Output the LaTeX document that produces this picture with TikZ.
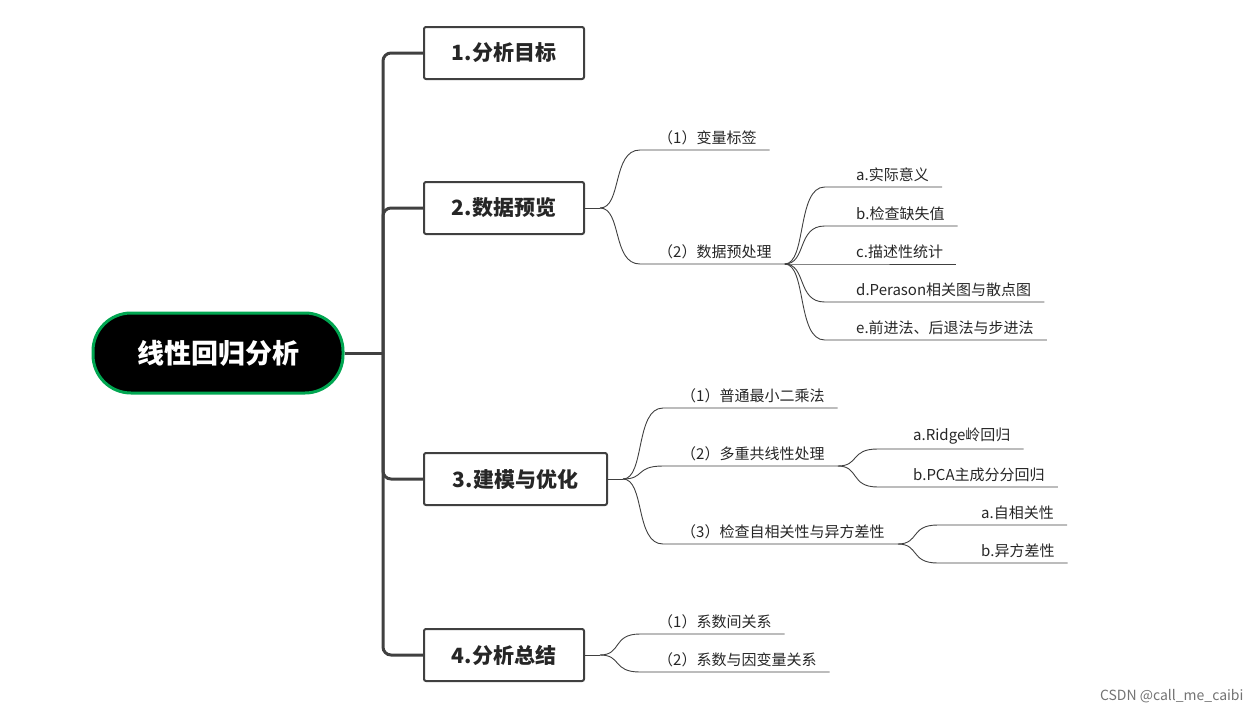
\documentclass[tikz,border=0pt]{standalone}
\usepackage{fontspec}
\setmainfont{Noto Sans CJK SC}
\begin{document}
\begin{tikzpicture}[x=1pt,y=-1pt,
  trunk/.style={line width=3pt,draw=black!75,rounded corners=8pt},
  lvl1/.style={draw=black!75,line width=2pt,rounded corners=2pt,minimum height=52pt,font=\fontsize{21}{24}\bfseries,text=black!85,anchor=west,inner xsep=0pt},
  lvl2/.style={anchor=south west,inner xsep=13pt,inner ysep=5pt,font=\fontsize{15}{18}\selectfont,text=black!85},
  br/.style={draw=black!75,line width=0.9pt}]
\useasboundingbox (0,0) rectangle (1260,715);
\node[fill=black,draw={rgb,255:red,0;green,166;blue,81},line width=3pt,rounded corners=38pt,minimum width=250pt,minimum height=80pt,text=white,font=\fontsize{27}{30}\bfseries] (root) at (218,353) {线性回归分析};
\node[lvl1,minimum width=160pt] (b1) at (423,53) {1.分析目标};
\node[lvl1,minimum width=160pt] (b2) at (423,208) {2.数据预览};
\node[lvl1,minimum width=183pt] (b3) at (423,479) {3.建模与优化};
\node[lvl1,minimum width=160pt] (b4) at (423,655) {4.分析总结};
\coordinate (t) at (383,353);
\draw[trunk] (root.east) -- (t);
\draw[trunk] (b1.west) -| (t);
\draw[trunk] (b2.west) -| (t);
\draw[trunk] (b3.west) -| (t);
\draw[trunk] (b4.west) -| (t);
% level 2
\node[lvl2] (p1) at (645,150) {（1）变量标签};
\node[lvl2] (p2) at (645,264) {（2）数据预处理};
\node[lvl2] (q1) at (843,187) {a.实际意义};
\node[lvl2] (q2) at (843,226) {b.检查缺失值};
\node[lvl2] (q3) at (843,264) {c.描述性统计};
\node[lvl2] (q4) at (843,302) {d.Perason相关图与散点图};
\node[lvl2] (q5) at (843,340) {e.前进法、后退法与步进法};
\node[lvl2] (r1) at (668,408) {（1）普通最小二乘法};
\node[lvl2] (r2) at (668,466) {（2）多重共线性处理};
\node[lvl2] (r3) at (668,544) {（3）检查自相关性与异方差性};
\node[lvl2] (s1) at (900,449) {a.Ridge岭回归};
\node[lvl2] (s2) at (900,487) {b.PCA主成分分回归};
\node[lvl2] (u1) at (968,525) {a.自相关性};
\node[lvl2] (u2) at (968,563) {b.异方差性};
\node[lvl2] (v1) at (645,634) {（1）系数间关系};
\node[lvl2] (v2) at (645,672) {（2）系数与因变量关系};
\node[anchor=east,font=\fontsize{14}{16}\selectfont,text=black!55] (wm) at (1247,696) {CSDN @call\_me\_caibi};
% branches
\def\fork#1#2#3{%
  \draw[br] (#1) -- ++(15,0) coordinate (f);
  \foreach \n in {#2} {%
    \path (f) coordinate (fa);
    \draw[br] (f) .. controls ($(f)+(22,0)$) and ($(f |- \n.south west)+(12,0)$) .. ($(f |- \n.south west)+(#3,0)$) -- (\n.south west) -- (\n.south east);
  }}
\usetikzlibrary{calc}
\draw[br] (b2.east) -- ++(15,0) coordinate (f2);
\foreach \n in {p1,p2} \draw[br] (f2) .. controls ($(f2)+(22,0)$) and ($(f2 |- \n.south west)+(12,0)$) .. ($(f2 |- \n.south west)+(40,0)$) -- (\n.south east);
\draw[br] (b3.east) -- ++(15,0) coordinate (f3);
\foreach \n in {r1,r2,r3} \draw[br] (f3) .. controls ($(f3)+(22,0)$) and ($(f3 |- \n.south west)+(12,0)$) .. ($(f3 |- \n.south west)+(40,0)$) -- (\n.south east);
\draw[br] (b4.east) -- ++(15,0) coordinate (f4);
\foreach \n in {v1,v2} \draw[br] (f4) .. controls ($(f4)+(22,0)$) and ($(f4 |- \n.south west)+(12,0)$) .. ($(f4 |- \n.south west)+(40,0)$) -- (\n.south east);
\coordinate (g2) at (p2.south east);
\foreach \n in {q1,q2,q3,q4,q5} \draw[br] (g2) .. controls ($(g2)+(22,0)$) and ($(g2 |- \n.south west)+(12,0)$) .. ($(g2 |- \n.south west)+(40,0)$) -- (\n.south east);
\coordinate (g3) at (r2.south east);
\foreach \n in {s1,s2} \draw[br] (g3) .. controls ($(g3)+(22,0)$) and ($(g3 |- \n.south west)+(12,0)$) .. ($(g3 |- \n.south west)+(40,0)$) -- (\n.south east);
\coordinate (g4) at (r3.south east);
\foreach \n in {u1,u2} \draw[br] (g4) .. controls ($(g4)+(22,0)$) and ($(g4 |- \n.south west)+(12,0)$) .. ($(g4 |- \n.south west)+(40,0)$) -- (\n.south east);
\end{tikzpicture}
\end{document}
